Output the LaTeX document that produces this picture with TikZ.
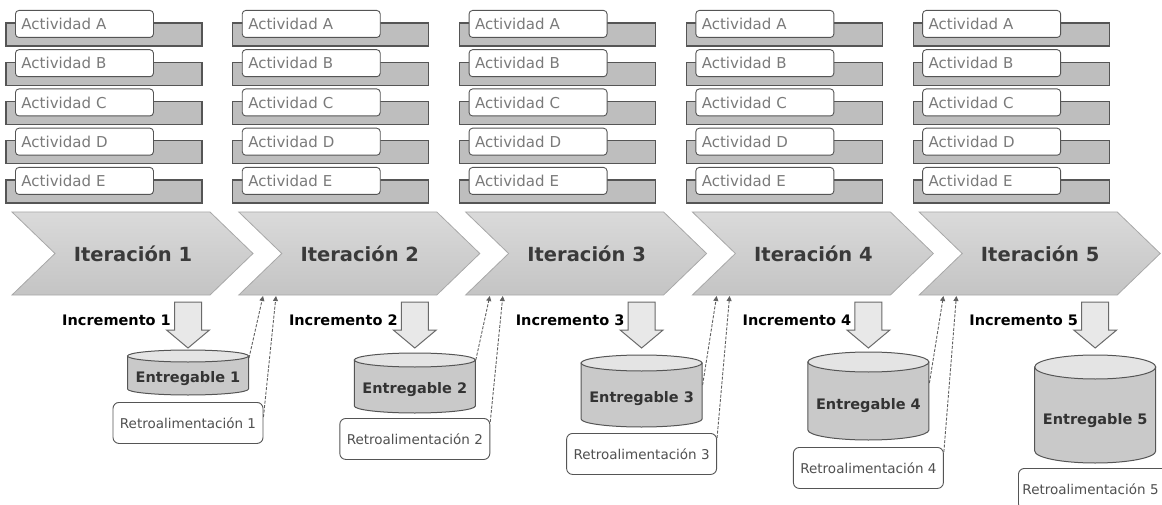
\documentclass[tikz,border=0pt]{standalone}
\usepackage{fontspec}
\setmainfont{DejaVu Sans}
\usetikzlibrary{arrows.meta}

\definecolor{edge}{HTML}{555555}
\definecolor{bargray}{HTML}{BEBEBE}
\definecolor{acttext}{HTML}{7A7A7A}
\definecolor{chevtop}{HTML}{DADADA}
\definecolor{chevbot}{HTML}{C4C4C4}
\definecolor{chevedge}{HTML}{A8A8A8}
\definecolor{ittext}{HTML}{3A3A3A}
\definecolor{arrfill}{HTML}{E8E8E8}
\definecolor{arredge}{HTML}{6A6A6A}
\definecolor{cylfill}{HTML}{C9C9C9}
\definecolor{cyltopfill}{HTML}{E4E4E4}
\definecolor{cyltext}{HTML}{333333}
\definecolor{retrotext}{HTML}{505050}
\definecolor{fbedge}{HTML}{606060}

\begin{document}
\begin{tikzpicture}[x=1pt,y=1pt,
  actbox/.style={draw=edge, line width=0.9pt, fill=white, rounded corners=3.5pt,
    inner xsep=6pt, inner ysep=0pt, text width=126pt, minimum height=27pt,
    align=left, font=\fontsize{15}{17}\selectfont, text=acttext},
  actbar/.style={draw=edge, line width=1.1pt, fill=bargray},
  chev/.style={draw=chevedge, line width=0.8pt, top color=chevtop, bottom color=chevbot},
  itlabel/.style={font=\bfseries\fontsize{19.5}{22}\selectfont, text=ittext, inner sep=0pt},
  incarrow/.style={draw=arredge, line width=1pt, fill=arrfill},
  inclabel/.style={font=\bfseries\fontsize{14.5}{16}\selectfont, anchor=east, inner sep=0pt},
  cylbody/.style={draw=edge, line width=1pt, fill=cylfill},
  cyltop/.style={draw=edge, line width=1pt, fill=cyltopfill},
  cyllabel/.style={font=\bfseries\fontsize{14.5}{16}\selectfont, text=cyltext, inner sep=0pt},
  retrobox/.style={draw=edge, line width=0.9pt, fill=white, rounded corners=6pt,
    minimum width=150pt, minimum height=41pt, inner xsep=4pt, inner ysep=0pt,
    font=\fontsize{13.5}{15}\selectfont, text=retrotext},
  feedback/.style={draw=fbedge, dash pattern=on 3pt off 1.5pt, line width=0.9pt,
    -{Triangle[length=5pt,width=5pt]}}
]
\useasboundingbox (0,0) rectangle (1162,-505);

\foreach \i/\ct/\cb/\r/\cs/\rt/\rso in {0/350/395/6/358/402/15, 1/353/413/7/360/418/4,
    2/355/427/8/385/433/5, 3/352/440/10/383/447/5, 4/355/463/12/0/468/0} {
  \pgfmathsetmacro{\dx}{226.8*\i}
  \pgfmathtruncatemacro{\n}{\i+1}
  \pgfmathsetmacro{\cx}{188+\dx}

  % activity stack of this iteration
  \foreach \L [count=\j from 0] in {A,B,C,D,E} {
    \pgfmathsetmacro{\ty}{10+39.25*\j}
    \draw[actbar] (6+\dx,-\ty-13) rectangle (202+\dx,-\ty-36);
    \node[actbox, anchor=north west] (act\i\L) at (15+\dx,-\ty) {Actividad \L};
  }

  % iteration chevron
  \draw[chev] (12+\dx,-212) -- (210+\dx,-212) -- (253+\dx,-253.5) -- (210+\dx,-295)
    -- (12+\dx,-295) -- (55+\dx,-253.5) -- cycle;
  \node[itlabel] (it\i) at (133+\dx,-253.5) {Iteración \n};

  % increment block arrow
  \draw[incarrow] (\cx-13.5,-302) -- (\cx+13.5,-302) -- (\cx+13.5,-330) -- (\cx+21.5,-330)
    -- (\cx,-348) -- (\cx-21.5,-330) -- (\cx-13.5,-330) -- cycle;
  \node[inclabel] (inc\i) at (\cx-17,-320) {Incremento \n};

  % deliverable cylinder
  \draw[cylbody] (\cx-60.5,-\ct-\r) -- (\cx-60.5,-\cb+\r)
    arc[start angle=180, end angle=360, x radius=60.5, y radius=\r]
    -- (\cx+60.5,-\ct-\r) -- cycle;
  \draw[cyltop] (\cx,-\ct-\r) ellipse[x radius=60.5, y radius=\r];
  \pgfmathsetmacro{\ly}{(\ct+2*\r+\cb)/2}
  \node[cyllabel] (ent\i) at (\cx,-\ly) {Entregable \n};

  % feedback box (the last one runs past the right edge, text kept to its left side)
  \ifnum\i<4
    \node[retrobox, anchor=north] (retro\i) at (\cx,-\rt) {Retroalimentación \n};
  \else
    \node[retrobox, anchor=north west, text width=142pt, align=left]
      (retro\i) at (1018,-\rt) {Retroalimentación \n};
  \fi

  % feedback arrows towards the next iteration
  \ifnum\i<4
    \coordinate (cylside\i) at (\cx+61,-\cs);
    \coordinate (fbA\i) at (263+\dx,-296);
    \coordinate (fbB\i) at (276+\dx,-296);
    \draw[feedback] (cylside\i) -- (fbA\i);
    \draw[feedback] ([yshift=-\rso pt]retro\i.north east) -- (fbB\i);
  \fi
}
\end{tikzpicture}
\end{document}
